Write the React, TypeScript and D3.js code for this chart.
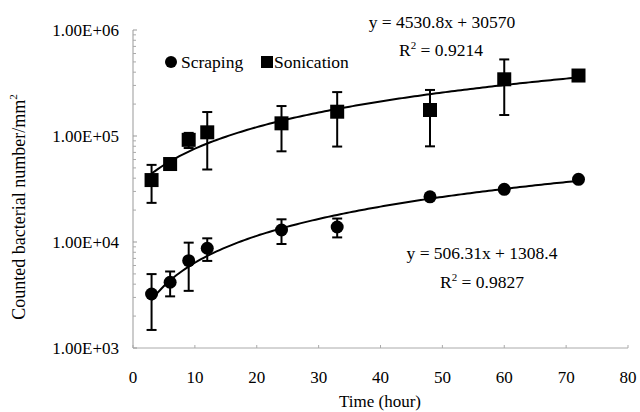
import { useMemo } from "react";
import * as d3 from "d3";

const WIDTH = 640;
const HEIGHT = 412;
const FONT = "'Liberation Serif', 'Times New Roman', serif";

// sampling times (hour)
const times = [3, 6, 9, 12, 24, 33, 48, 60, 72];

// counted bacteria / mm2
const scraping = [3230, 4170, 6660, 8730, 12970, 13850, 26700, 31400, 39000];
const scrapingErr = [1750, 1100, 3200, 2100, 3400, 2800, 1500, 1500, 1500];
const sonication = [38400, 54400, 92000, 108300, 131700, 169500, 175900, 342700, 372000];
const sonicationErr = [15000, 5000, 15000, 60000, 60000, 90000, 96000, 185000, 30000];

// linear trendlines [slope, intercept]
const scrapingFit = [506.31, 1308.4];
const sonicationFit = [4530.8, 30570];

const xTicks = [0, 10, 20, 30, 40, 50, 60, 70, 80];
const yTicks = [1e3, 1e4, 1e5, 1e6];
const yTickLabels = ["1.00E+03", "1.00E+04", "1.00E+05", "1.00E+06"];

const App = () => {
  const x = useMemo(() => d3.scaleLinear().domain([0, 80]).range([133, 628]), []);
  const y = useMemo(() => d3.scaleLog().domain([1e3, 1e6]).range([348, 30]), []);

  const fitPath = (fit: number[]) => {
    const pts = d3.range(times[0], times[times.length - 1] + 0.01, 0.5);
    return d3
      .line<number>()
      .x((t) => x(t))
      .y((t) => y(fit[0] * t + fit[1]))(pts);
  };

  // minor log ticks on the y axis
  const minorTicks = useMemo(() => {
    const out: number[] = [];
    [1e3, 1e4, 1e5].forEach((d) => {
      for (let k = 2; k < 10; k++) out.push(d * k);
    });
    return out;
  }, []);

  const errorBars = (vals: number[], errs: number[], key: string) =>
    vals.map((v, i) => {
      const cx = x(times[i]);
      const top = y(v + errs[i]);
      const bot = y(Math.max(v - errs[i], 1001));
      return (
        <g key={key + i} stroke="#000" strokeWidth={2}>
          <line x1={cx} x2={cx} y1={top} y2={bot} />
          <line x1={cx - 5} x2={cx + 5} y1={top} y2={top} />
          <line x1={cx - 5} x2={cx + 5} y1={bot} y2={bot} />
        </g>
      );
    });

  return (
    <svg
      width={WIDTH}
      height={HEIGHT}
      style={{ position: "absolute", left: 0, top: 0, background: "#fff", fontFamily: FONT }}
    >
      <rect width={WIDTH} height={HEIGHT} fill="#fff" />

      {/* axes */}
      <line x1={x(0)} x2={x(0)} y1={y(1e6)} y2={y(1e3)} stroke="#999" strokeWidth={1} />
      <line x1={x(0)} x2={x(80)} y1={y(1e3)} y2={y(1e3)} stroke="#aaa" strokeWidth={1} />
      {minorTicks.map((m) => (
        <line key={m} x1={x(0)} x2={x(0) + 3} y1={y(m)} y2={y(m)} stroke="#aaa" />
      ))}
      {yTicks.map((t) => (
        <line key={t} x1={x(0)} x2={x(0) + 4} y1={y(t)} y2={y(t)} stroke="#999" />
      ))}
      {xTicks.map((t) => (
        <line key={t} x1={x(t)} x2={x(t)} y1={y(1e3)} y2={y(1e3) - 3} stroke="#aaa" />
      ))}

      {/* tick labels */}
      {yTicks.map((t, i) => (
        <text key={t} x={119} y={y(t)} dy="0.35em" textAnchor="end" fontSize={17}>
          {yTickLabels[i]}
        </text>
      ))}
      {xTicks.map((t) => (
        <text key={t} x={x(t)} y={383} textAnchor="middle" fontSize={17}>
          {t}
        </text>
      ))}

      <text x={380} y={407} textAnchor="middle" fontSize={17}>
        Time (hour)
      </text>
      <text transform="translate(25, 207) rotate(-90)" textAnchor="middle" fontSize={18}>
        Counted bacterial number/mm
        <tspan fontSize={11} dy={-8}>2</tspan>
      </text>

      {/* trendlines */}
      <path d={fitPath(scrapingFit) || ""} fill="none" stroke="#000" strokeWidth={2} />
      <path d={fitPath(sonicationFit) || ""} fill="none" stroke="#000" strokeWidth={2} />

      {/* error bars */}
      {errorBars(scraping, scrapingErr, "e1")}
      {errorBars(sonication, sonicationErr, "e2")}

      {/* markers */}
      {scraping.map((v, i) => (
        <circle key={"c" + i} cx={x(times[i])} cy={y(v)} r={6.5} fill="#000" />
      ))}
      {sonication.map((v, i) => (
        <rect key={"s" + i} x={x(times[i]) - 7} y={y(v) - 7} width={14} height={14} fill="#000" />
      ))}

      {/* legend */}
      <circle cx={171} cy={62} r={6} fill="#000" />
      <text x={181} y={68} fontSize={17.5}>Scraping</text>
      <rect x={261} y={56} width={12} height={12} fill="#000" />
      <text x={274} y={68} fontSize={17.5}>Sonication</text>

      {/* fit equations */}
      <text x={442} y={28} textAnchor="middle" fontSize={17.5}>
        y = 4530.8x + 30570
      </text>
      <text x={441} y={56} textAnchor="middle" fontSize={17.5}>
        R<tspan fontSize={11} dy={-7}>2</tspan>
        <tspan dy={7}> = 0.9214</tspan>
      </text>
      <text x={482} y={259} textAnchor="middle" fontSize={17.5}>
        y = 506.31x + 1308.4
      </text>
      <text x={482} y={288} textAnchor="middle" fontSize={17.5}>
        R<tspan fontSize={11} dy={-7}>2</tspan>
        <tspan dy={7}> = 0.9827</tspan>
      </text>
    </svg>
  );
};

export default App;
